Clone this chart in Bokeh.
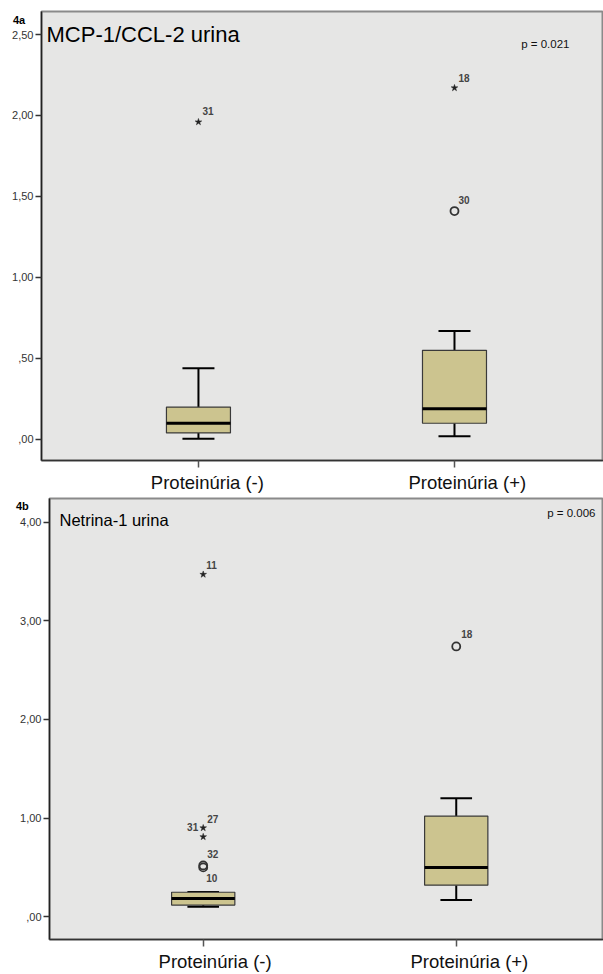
from bokeh.plotting import figure
from bokeh.layouts import column
from bokeh.models import Range1d, FixedTicker, Label, LinearAxis, Div
from bokeh.embed import file_html
from bokeh.resources import INLINE

# ---------------- data ----------------
groups = ["Proteinúria (-)", "Proteinúria (+)"]
group_pos = [0, 1]

# 4a  MCP-1/CCL-2 urina
mcp_lower = [0.005, 0.02]
mcp_q1 = [0.04, 0.10]
mcp_median = [0.10, 0.19]
mcp_q3 = [0.20, 0.55]
mcp_upper = [0.44, 0.67]
mcp_out_group = [0, 1, 1]
mcp_out_value = [1.96, 2.17, 1.41]
mcp_out_id = ["31", "18", "30"]
mcp_out_kind = ["star", "star", "circle"]
mcp_ticks = [0.0, 0.5, 1.0, 1.5, 2.0, 2.5]
mcp_tick_labels = [",00", ",50", "1,00", "1,50", "2,00", "2,50"]

# 4b  Netrina-1 urina
net_lower = [0.10, 0.17]
net_q1 = [0.118, 0.32]
net_median = [0.184, 0.50]
net_q3 = [0.248, 1.02]
net_upper = [0.25, 1.20]
net_out_group = [0, 0, 0, 0, 0, 1]
net_out_value = [3.47, 0.90, 0.81, 0.52, 0.50, 2.74]
net_out_id = ["11", "27", "31", "32", "10", "18"]
net_out_kind = ["star", "star", "star", "circle", "circle", "circle"]
net_ticks = [0.0, 1.0, 2.0, 3.0, 4.0]
net_tick_labels = [",00", "1,00", "2,00", "3,00", "4,00"]

# ---------------- style ----------------
FONT = "Liberation Sans"
BG = "#e6e6e5"
BOX_FILL = "#ccc48f"
BOX_W = 0.25
CAP_W = 0.125


def make_panel(title, title_size, title_offset, pval, p_offset,
               lower, q1, med, q3, upper,
               og, ov, oid, okind, label_offsets, ticks, tick_labels,
               yrange, xrange, width, height, border_top, border_bottom,
               label_shift, margin_left):
    p = figure(width=width, height=height, output_backend="svg",
               toolbar_location=None, x_range=Range1d(*xrange),
               y_range=Range1d(*yrange), min_border_left=41,
               min_border_right=0, min_border_top=border_top,
               min_border_bottom=border_bottom,
               margin=(0, 0, 0, margin_left))
    p.background_fill_color = BG
    p.border_fill_color = "white"
    p.outline_line_color = "#8a8a8a"
    p.outline_line_width = 2
    p.xgrid.visible = False
    p.ygrid.visible = False

    # y axis
    ya = p.yaxis[0]
    ya.ticker = FixedTicker(ticks=ticks)
    ya.major_label_overrides = {t: l for t, l in zip(ticks, tick_labels)}
    ya.major_label_text_font = FONT
    ya.major_label_text_font_size = "11px"
    ya.major_label_text_color = "#333333"
    ya.major_label_standoff = 2
    ya.major_tick_out = 6
    ya.major_tick_in = 0
    ya.minor_tick_out = 0
    ya.minor_tick_in = 0
    ya.axis_line_color = "#222222"
    ya.axis_line_width = 1.5
    ya.major_tick_line_color = "#333333"
    ya.major_tick_line_width = 1.5

    # x axis: tick marks only
    xa = p.xaxis[0]
    xa.ticker = FixedTicker(ticks=group_pos)
    xa.major_label_overrides = {g: "" for g in group_pos}
    xa.major_label_text_font_size = "0px"
    xa.major_label_standoff = 0
    xa.major_tick_out = 7
    xa.major_tick_in = 0
    xa.minor_tick_out = 0
    xa.minor_tick_in = 0
    xa.axis_line_color = "#333333"
    xa.axis_line_width = 1.5
    xa.major_tick_line_color = "#555555"
    xa.major_tick_line_width = 1.5

    # x axis: category labels (set slightly right of the tick, as in the source)
    lab_pos = [g + s for g, s in zip(group_pos, label_shift)]
    xl = LinearAxis(ticker=FixedTicker(ticks=lab_pos),
                    major_label_overrides={pp: l for pp, l in zip(lab_pos, groups)})
    xl.major_label_text_font = FONT
    xl.major_label_text_font_size = "18.5px"
    xl.major_label_text_color = "#111111"
    xl.major_label_standoff = 4
    xl.major_tick_out = 0
    xl.major_tick_in = 0
    xl.minor_tick_out = 0
    xl.minor_tick_in = 0
    xl.axis_line_color = None
    xl.major_tick_line_color = None
    p.add_layout(xl, "below")

    # whiskers
    p.segment(x0=group_pos, y0=q3, x1=group_pos, y1=upper,
              line_color="black", line_width=2)
    p.segment(x0=group_pos, y0=lower, x1=group_pos, y1=q1,
              line_color="black", line_width=2)
    capx0 = [g - CAP_W / 2 for g in group_pos]
    capx1 = [g + CAP_W / 2 for g in group_pos]
    p.segment(x0=capx0, y0=upper, x1=capx1, y1=upper,
              line_color="black", line_width=2)
    p.segment(x0=capx0, y0=lower, x1=capx1, y1=lower,
              line_color="black", line_width=2)
    # boxes
    p.vbar(x=group_pos, width=BOX_W, bottom=q1, top=q3,
           fill_color=BOX_FILL, line_color="#3a3a3a", line_width=1.2)
    # medians
    p.segment(x0=[g - BOX_W / 2 for g in group_pos], y0=med,
              x1=[g + BOX_W / 2 for g in group_pos], y1=med,
              line_color="black", line_width=3)

    # outliers
    ox = [group_pos[g] for g in og]
    sx = [x for x, k in zip(ox, okind) if k == "star"]
    sy = [y for y, k in zip(ov, okind) if k == "star"]
    cx = [x for x, k in zip(ox, okind) if k == "circle"]
    cy = [y for y, k in zip(ov, okind) if k == "circle"]
    if sx:
        p.scatter(sx, sy, marker="star", size=7, fill_color="#222222",
                  line_color="#222222", line_width=0.5)
    if cx:
        p.scatter(cx, cy, marker="circle", size=8, fill_color=None,
                  line_color="#333333", line_width=1.8)
    for x, y, t, (dx, dy, align) in zip(ox, ov, oid, label_offsets):
        p.add_layout(Label(x=x, y=y, text=t, x_offset=dx, y_offset=dy,
                           text_align=align, text_baseline="middle",
                           text_font=FONT, text_font_size="10px",
                           text_font_style="bold", text_color="#444444"))

    # title inside frame
    p.add_layout(Label(x=xrange[0], y=yrange[1], text=title,
                       x_offset=title_offset[0], y_offset=title_offset[1],
                       text_baseline="top", text_font=FONT,
                       text_font_size=title_size, text_color="black"))
    # p value
    p.add_layout(Label(x=xrange[1], y=yrange[1], text=pval,
                       x_offset=p_offset[0], y_offset=p_offset[1],
                       text_align="right",
                       text_baseline="middle", text_font=FONT,
                       text_font_size="11.5px", text_color="#111111"))
    return p


def tag_div(text, left, top):
    return Div(text=text, width=20, height=0, margin=0,
               styles={"position": "relative", "z-index": "10",
                       "overflow": "visible", "left": f"{left}px",
                       "top": f"{top}px", "font-family": FONT,
                       "font-size": "11px", "font-weight": "bold",
                       "line-height": "1", "color": "black"})


p1 = make_panel("MCP-1/CCL-2 urina", "22px", (5, -10),
                "p = 0.021", (-34, -32),
                mcp_lower, mcp_q1, mcp_median, mcp_q3, mcp_upper,
                mcp_out_group, mcp_out_value, mcp_out_id, mcp_out_kind,
                [(4, 11, "left"), (4, 10, "left"), (4, 11, "left")],
                mcp_ticks, mcp_tick_labels,
                (-0.130, 2.642), (-0.613, 1.582), 603, 495, 11, 35,
                [0.035, 0.05], 0)

p2 = make_panel("Netrina-1 urina", "16.5px", (10, -12),
                "p = 0.006", (-8, -14),
                net_lower, net_q1, net_median, net_q3, net_upper,
                net_out_group, net_out_value, net_out_id, net_out_kind,
                [(3, 9, "left"), (4, 9, "left"), (-5, 10, "right"),
                 (4, 11, "left"), (3, -11, "left"), (5, 12, "left")],
                net_ticks, net_tick_labels,
                (-0.231, 4.24), (-0.6075, 1.582), 595, 479, 3, 32,
                [0.047, 0.052], 8)

layout = column(tag_div("4a", 13, 15), p1, tag_div("4b", 16, 6), p2,
                spacing=0)
open("out.html", "w").write(file_html(layout, INLINE))
